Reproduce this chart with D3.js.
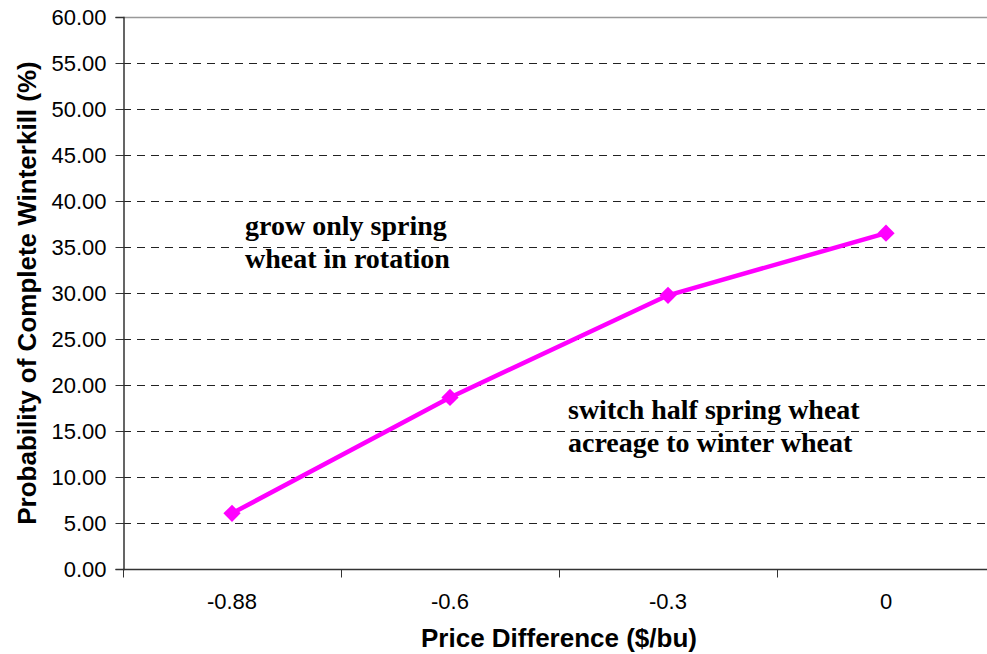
<!DOCTYPE html>
<html>
<head>
<meta charset="utf-8">
<script src="https://cdn.jsdelivr.net/npm/d3@7"></script>
<style>
  html, body { margin: 0; padding: 0; background: #fff; }
  svg { display: block; }
</style>
</head>
<body>
<div id="chart"></div>
<script>
// Price difference categories and winterkill probability (%)
const categories = ["-0.88", "-0.6", "-0.3", "0"];
const winterkill = [6.05, 18.65, 29.75, 36.5];
const yTicks = [0, 5, 10, 15, 20, 25, 30, 35, 40, 45, 50, 55, 60];
const notes = [
  { lines: ["grow only spring", "wheat in rotation"], x: 245, y: 235 },
  { lines: ["switch half spring wheat", "acreage to winter wheat"], x: 568, y: 419 }
];

const W = 987, H = 654;
const margin = { left: 123, top: 17, right: -8, bottom: 85 };
const sans = "Liberation Sans, Arial, sans-serif";

const svg = d3.select("#chart").append("svg")
  .attr("width", W).attr("height", H);

const x = d3.scaleBand().domain(categories)
  .range([margin.left, W - margin.right]).padding(0);
const y = d3.scaleLinear().domain([0, 60])
  .range([H - margin.bottom, margin.top]);

// Horizontal gridlines
svg.append("g").selectAll("line")
  .data(yTicks.filter(d => d > 0))
  .join("line")
  .attr("x1", margin.left).attr("x2", W)
  .attr("y1", d => Math.round(y(d)) + 0.5).attr("y2", d => Math.round(y(d)) + 0.5)
  .attr("stroke", d => d === 60 ? "#999" : "#222")
  .attr("stroke-width", d => d === 60 ? 1.5 : 1)
  .attr("stroke-dasharray", d => d === 60 ? null : "8,6");

// Y axis
const yAxis = svg.append("g")
  .attr("transform", `translate(${margin.left + 0.5},0)`)
  .call(d3.axisLeft(y).tickValues(yTicks).tickFormat(d3.format(".2f")).tickSize(8).tickPadding(9));
yAxis.select(".domain").attr("stroke", "#333").attr("stroke-width", 1.5);
yAxis.selectAll(".tick line").attr("stroke", "#333");
yAxis.selectAll("text")
  .attr("font-family", sans)
  .attr("font-size", 22).attr("fill", "#000");

// X axis with ticks between categories
const xBounds = [margin.left, ...categories.map(c => x(c) + x.bandwidth())];
const xAxisY = Math.round(y(0)) + 0.5;
const xg = svg.append("g");
xg.append("line")
  .attr("x1", margin.left).attr("x2", W)
  .attr("y1", xAxisY).attr("y2", xAxisY)
  .attr("stroke", "#333").attr("stroke-width", 1.5);
xg.selectAll("line.tk").data(xBounds).join("line").attr("class", "tk")
  .attr("x1", d => Math.round(d) + 0.5).attr("x2", d => Math.round(d) + 0.5)
  .attr("y1", xAxisY).attr("y2", xAxisY + 8)
  .attr("stroke", "#333");
xg.selectAll("text").data(categories).join("text")
  .attr("x", d => x(d) + x.bandwidth() / 2)
  .attr("y", 609)
  .attr("text-anchor", "middle")
  .attr("font-family", sans)
  .attr("font-size", 22)
  .text(d => d);

// Axis titles
svg.append("text")
  .attr("x", 559).attr("y", 647)
  .attr("text-anchor", "middle")
  .attr("font-family", sans)
  .attr("font-weight", "bold").attr("font-size", 26)
  .text("Price Difference ($/bu)");
svg.append("text")
  .attr("transform", `translate(36,${y(30)}) rotate(-90)`)
  .attr("text-anchor", "middle")
  .attr("font-family", sans)
  .attr("font-weight", "bold").attr("font-size", 26)
  .text("Probability of Complete Winterkill (%)");

// Series line and diamond markers
const cx = c => x(c) + x.bandwidth() / 2;
const pts = categories.map((c, i) => [cx(c), y(winterkill[i])]);
svg.append("path")
  .attr("d", d3.line()(pts))
  .attr("fill", "none").attr("stroke", "#ff00ff").attr("stroke-width", 4.5)
  .attr("stroke-linejoin", "round");
svg.append("g").selectAll("path")
  .data(pts).join("path")
  .attr("transform", d => `translate(${d[0]},${d[1]})`)
  .attr("d", d3.symbol(d3.symbolDiamond2, 190)())
  .attr("fill", "#ff00ff");

// Region annotations
notes.forEach(n => {
  const t = svg.append("text")
    .attr("font-family", "Liberation Serif, Times New Roman, serif")
    .attr("font-weight", "bold").attr("font-size", 28);
  n.lines.forEach((ln, i) => {
    t.append("tspan")
      .attr("x", n.x)
      .attr("y", n.y + i * 33)
      .text(ln);
  });
});
</script>
</body>
</html>
